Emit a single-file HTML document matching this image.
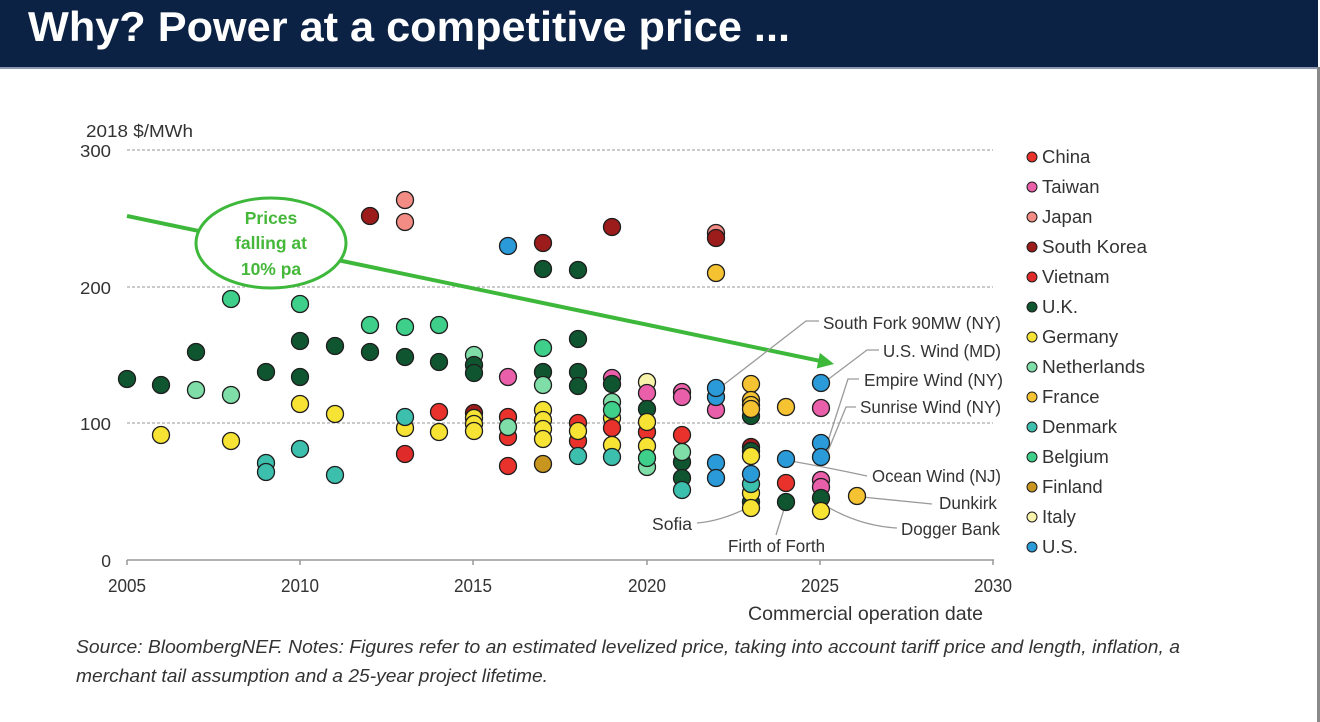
<!DOCTYPE html>
<html><head><meta charset="utf-8"><style>
html,body{margin:0;padding:0;background:#fff;}
svg{display:block;}
circle{stroke:#1e1e1e;stroke-width:1.3;}
.cn{fill:#e8322b}.tw{fill:#e95fa9}.jp{fill:#f28c84}.kr{fill:#9c1b1b}.vn{fill:#e02b2b}
.uk{fill:#0f5530}.de{fill:#f7e334}.nl{fill:#7fdea8}.fr{fill:#f5c232}.dk{fill:#3dbfae}
.be{fill:#3ecf8a}.fi{fill:#c8951f}.it{fill:#f7f3aa}.us{fill:#2b9ad8}
text{font-family:"Liberation Sans",Arial,sans-serif;fill:#333;}
.lg circle{stroke-width:1;}
</style></head><body>
<svg width="1320" height="722" viewBox="0 0 1320 722" xmlns="http://www.w3.org/2000/svg">
<rect x="0" y="0" width="1320" height="722" fill="#fff"/>
<!-- header -->
<rect x="0" y="0" width="1318" height="67" fill="#0c2245"/>
<rect x="0" y="67" width="1318" height="2" fill="#8b98b0"/>
<rect x="1317" y="67" width="3" height="655" fill="#8a8a8a"/>
<text x="28" y="41" font-size="42" font-weight="bold" style="fill:#fff" textLength="762" lengthAdjust="spacingAndGlyphs">Why? Power at a competitive price ...</text>

<!-- axes/grid -->
<g stroke="#aaa" stroke-width="1.2" stroke-dasharray="3,2">
<line x1="127" y1="150" x2="993" y2="150"/>
<line x1="127" y1="287" x2="993" y2="287"/>
<line x1="127" y1="423" x2="993" y2="423"/>
</g>
<g stroke="#999" stroke-width="1.5">
<line x1="127" y1="560" x2="994" y2="560"/>
<line x1="127" y1="560" x2="127" y2="565"/>
<line x1="300" y1="560" x2="300" y2="565"/>
<line x1="473" y1="560" x2="473" y2="565"/>
<line x1="647" y1="560" x2="647" y2="565"/>
<line x1="820" y1="560" x2="820" y2="565"/>
<line x1="993" y1="560" x2="993" y2="565"/>
</g>
<text x="86" y="137" font-size="17.5" textLength="107" lengthAdjust="spacingAndGlyphs">2018 $/MWh</text>
<g font-size="17.5" text-anchor="end">
<text x="111" y="157" textLength="31" lengthAdjust="spacingAndGlyphs">300</text>
<text x="111" y="294" textLength="31" lengthAdjust="spacingAndGlyphs">200</text>
<text x="111" y="430" textLength="31" lengthAdjust="spacingAndGlyphs">100</text>
<text x="111" y="567">0</text>
</g>
<g font-size="18" text-anchor="middle">
<text x="127" y="592" textLength="38" lengthAdjust="spacingAndGlyphs">2005</text>
<text x="300" y="592" textLength="38" lengthAdjust="spacingAndGlyphs">2010</text>
<text x="473" y="592" textLength="38" lengthAdjust="spacingAndGlyphs">2015</text>
<text x="647" y="592" textLength="38" lengthAdjust="spacingAndGlyphs">2020</text>
<text x="820" y="592" textLength="38" lengthAdjust="spacingAndGlyphs">2025</text>
<text x="993" y="592" textLength="38" lengthAdjust="spacingAndGlyphs">2030</text>
</g>
<text x="748" y="620" font-size="19.5" textLength="235" lengthAdjust="spacingAndGlyphs">Commercial operation date</text>

<!-- arrow -->
<line x1="127" y1="216" x2="819" y2="360.7" stroke="#3db83a" stroke-width="4"/>
<polygon points="834,364 816.7,368.5 819.9,352.9" fill="#3db83a"/>
<ellipse cx="271" cy="243" rx="75" ry="45" fill="#fff" stroke="#3db83a" stroke-width="3"/>
<g font-size="17.5" font-weight="bold" text-anchor="middle">
<text x="271" y="224" style="fill:#45b83a">Prices</text>
<text x="271" y="249" style="fill:#45b83a">falling at</text>
<text x="271" y="275" style="fill:#45b83a">10% pa</text>
</g>

<!-- leader lines -->
<g fill="none" stroke="#9a9a9a" stroke-width="1.3">
<polyline points="819,321 806,321 722,386"/>
<polyline points="879,350 867,350 826,381"/>
<polyline points="859,379 848,379 828,441"/>
<polyline points="856,407 846,407 826,456"/>
<path d="M791,461 Q830,468 867,476"/>
<path d="M862,497 L932,504"/>
<path d="M826,506 Q860,526 897,528"/>
<path d="M697,523 Q722,521 749,507"/>
<path d="M776,535 L785,506"/>
</g>

<!-- points -->
<g>
<circle class="uk" cx="127" cy="379" r="8.5"/>
<circle class="uk" cx="161" cy="385" r="8.5"/>
<circle class="de" cx="161" cy="435" r="8.5"/>
<circle class="uk" cx="196" cy="352" r="8.5"/>
<circle class="nl" cx="196" cy="390" r="8.5"/>
<circle class="be" cx="231" cy="299" r="8.5"/>
<circle class="nl" cx="231" cy="395" r="8.5"/>
<circle class="de" cx="231" cy="441" r="8.5"/>
<circle class="uk" cx="266" cy="372" r="8.5"/>
<circle class="dk" cx="266" cy="463" r="8.5"/>
<circle class="dk" cx="266" cy="472" r="8.5"/>
<circle class="be" cx="300" cy="304" r="8.5"/>
<circle class="uk" cx="300" cy="341" r="8.5"/>
<circle class="uk" cx="300" cy="377" r="8.5"/>
<circle class="de" cx="300" cy="404" r="8.5"/>
<circle class="dk" cx="300" cy="449" r="8.5"/>
<circle class="uk" cx="335" cy="346" r="8.5"/>
<circle class="de" cx="335" cy="414" r="8.5"/>
<circle class="dk" cx="335" cy="475" r="8.5"/>
<circle class="kr" cx="370" cy="216" r="8.5"/>
<circle class="be" cx="370" cy="325" r="8.5"/>
<circle class="uk" cx="370" cy="352" r="8.5"/>
<circle class="jp" cx="405" cy="200" r="8.5"/>
<circle class="jp" cx="405" cy="222" r="8.5"/>
<circle class="be" cx="405" cy="327" r="8.5"/>
<circle class="uk" cx="405" cy="357" r="8.5"/>
<circle class="de" cx="405" cy="428" r="8.5"/>
<circle class="dk" cx="405" cy="417" r="8.5"/>
<circle class="vn" cx="405" cy="454" r="8.5"/>
<circle class="be" cx="439" cy="325" r="8.5"/>
<circle class="uk" cx="439" cy="362" r="8.5"/>
<circle class="cn" cx="439" cy="412" r="8.5"/>
<circle class="de" cx="439" cy="432" r="8.5"/>
<circle class="nl" cx="474" cy="355" r="8.5"/>
<circle class="uk" cx="474" cy="365" r="8.5"/>
<circle class="uk" cx="474" cy="373" r="8.5"/>
<circle class="kr" cx="474" cy="413" r="8.5"/>
<circle class="de" cx="474" cy="418" r="8.5"/>
<circle class="de" cx="474" cy="424" r="8.5"/>
<circle class="de" cx="474" cy="431" r="8.5"/>
<circle class="us" cx="508" cy="246" r="8.5"/>
<circle class="tw" cx="508" cy="377" r="8.5"/>
<circle class="cn" cx="508" cy="417" r="8.5"/>
<circle class="cn" cx="508" cy="437" r="8.5"/>
<circle class="nl" cx="508" cy="427" r="8.5"/>
<circle class="cn" cx="508" cy="466" r="8.5"/>
<circle class="kr" cx="543" cy="243" r="8.5"/>
<circle class="uk" cx="543" cy="269" r="8.5"/>
<circle class="be" cx="543" cy="348" r="8.5"/>
<circle class="uk" cx="543" cy="372" r="8.5"/>
<circle class="nl" cx="543" cy="385" r="8.5"/>
<circle class="de" cx="543" cy="410" r="8.5"/>
<circle class="de" cx="543" cy="420" r="8.5"/>
<circle class="de" cx="543" cy="429" r="8.5"/>
<circle class="de" cx="543" cy="439" r="8.5"/>
<circle class="fi" cx="543" cy="464" r="8.5"/>
<circle class="uk" cx="578" cy="270" r="8.5"/>
<circle class="uk" cx="578" cy="339" r="8.5"/>
<circle class="uk" cx="578" cy="372" r="8.5"/>
<circle class="uk" cx="578" cy="386" r="8.5"/>
<circle class="cn" cx="578" cy="423" r="8.5"/>
<circle class="cn" cx="578" cy="441" r="8.5"/>
<circle class="de" cx="578" cy="431" r="8.5"/>
<circle class="dk" cx="578" cy="456" r="8.5"/>
<circle class="kr" cx="612" cy="227" r="8.5"/>
<circle class="tw" cx="612" cy="378" r="8.5"/>
<circle class="uk" cx="612" cy="384" r="8.5"/>
<circle class="nl" cx="612" cy="402" r="8.5"/>
<circle class="de" cx="612" cy="418" r="8.5"/>
<circle class="be" cx="612" cy="410" r="8.5"/>
<circle class="cn" cx="612" cy="428" r="8.5"/>
<circle class="de" cx="612" cy="445" r="8.5"/>
<circle class="dk" cx="612" cy="457" r="8.5"/>
<circle class="it" cx="647" cy="382" r="8.5"/>
<circle class="tw" cx="647" cy="393" r="8.5"/>
<circle class="uk" cx="647" cy="409" r="8.5"/>
<circle class="cn" cx="647" cy="432" r="8.5"/>
<circle class="de" cx="647" cy="422" r="8.5"/>
<circle class="de" cx="647" cy="446" r="8.5"/>
<circle class="nl" cx="647" cy="467" r="8.5"/>
<circle class="be" cx="647" cy="458" r="8.5"/>
<circle class="tw" cx="682" cy="392" r="8.5"/>
<circle class="tw" cx="682" cy="397" r="8.5"/>
<circle class="cn" cx="682" cy="435" r="8.5"/>
<circle class="uk" cx="682" cy="462" r="8.5"/>
<circle class="nl" cx="682" cy="452" r="8.5"/>
<circle class="uk" cx="682" cy="478" r="8.5"/>
<circle class="dk" cx="682" cy="490" r="8.5"/>
<circle class="jp" cx="716" cy="233" r="8.5"/>
<circle class="kr" cx="716" cy="238" r="8.5"/>
<circle class="fr" cx="716" cy="273" r="8.5"/>
<circle class="tw" cx="716" cy="410" r="8.5"/>
<circle class="us" cx="716" cy="397" r="8.5"/>
<circle class="us" cx="716" cy="388" r="8.5"/>
<circle class="us" cx="716" cy="463" r="8.5"/>
<circle class="us" cx="716" cy="478" r="8.5"/>
<circle class="fr" cx="751" cy="384" r="8.5"/>
<circle class="uk" cx="751" cy="416" r="8.5"/>
<circle class="fr" cx="751" cy="400" r="8.5"/>
<circle class="fr" cx="751" cy="405" r="8.5"/>
<circle class="fr" cx="751" cy="409" r="8.5"/>
<circle class="kr" cx="751" cy="447" r="8.5"/>
<circle class="uk" cx="751" cy="451" r="8.5"/>
<circle class="de" cx="751" cy="456" r="8.5"/>
<circle class="uk" cx="751" cy="502" r="8.5"/>
<circle class="de" cx="751" cy="493" r="8.5"/>
<circle class="dk" cx="751" cy="484" r="8.5"/>
<circle class="us" cx="751" cy="474" r="8.5"/>
<circle class="de" cx="751" cy="508" r="8.5"/>
<circle class="fr" cx="786" cy="407" r="8.5"/>
<circle class="us" cx="786" cy="459" r="8.5"/>
<circle class="cn" cx="786" cy="483" r="8.5"/>
<circle class="uk" cx="786" cy="502" r="8.5"/>
<circle class="us" cx="821" cy="383" r="8.5"/>
<circle class="tw" cx="821" cy="408" r="8.5"/>
<circle class="us" cx="821" cy="443" r="8.5"/>
<circle class="us" cx="821" cy="457" r="8.5"/>
<circle class="tw" cx="821" cy="480" r="8.5"/>
<circle class="tw" cx="821" cy="487" r="8.5"/>
<circle class="uk" cx="821" cy="498" r="8.5"/>
<circle class="de" cx="821" cy="511" r="8.5"/>
<circle class="fr" cx="857" cy="496" r="8.5"/>
</g>

<!-- annotation labels -->
<g font-size="17.5">
<text x="823" y="329" textLength="178" lengthAdjust="spacingAndGlyphs">South Fork 90MW (NY)</text>
<text x="883" y="357" textLength="118" lengthAdjust="spacingAndGlyphs">U.S. Wind (MD)</text>
<text x="864" y="386" textLength="139" lengthAdjust="spacingAndGlyphs">Empire Wind (NY)</text>
<text x="860" y="413" textLength="141" lengthAdjust="spacingAndGlyphs">Sunrise Wind (NY)</text>
<text x="872" y="482" textLength="129" lengthAdjust="spacingAndGlyphs">Ocean Wind (NJ)</text>
<text x="939" y="509" textLength="58" lengthAdjust="spacingAndGlyphs">Dunkirk</text>
<text x="901" y="535" textLength="99" lengthAdjust="spacingAndGlyphs">Dogger Bank</text>
<text x="652" y="530" textLength="40" lengthAdjust="spacingAndGlyphs">Sofia</text>
<text x="728" y="552" textLength="97" lengthAdjust="spacingAndGlyphs">Firth of Forth</text>
</g>

<!-- legend -->
<g class="lg" font-size="18.5">
<circle class="cn" cx="1032" cy="157" r="5"/><text x="1042" y="163">China</text>
<circle class="tw" cx="1032" cy="187" r="5"/><text x="1042" y="193">Taiwan</text>
<circle class="jp" cx="1032" cy="217" r="5"/><text x="1042" y="223">Japan</text>
<circle class="kr" cx="1032" cy="247" r="5"/><text x="1042" y="253" textLength="105" lengthAdjust="spacingAndGlyphs">South Korea</text>
<circle class="vn" cx="1032" cy="277" r="5"/><text x="1042" y="283">Vietnam</text>
<circle class="uk" cx="1032" cy="307" r="5"/><text x="1042" y="313">U.K.</text>
<circle class="de" cx="1032" cy="337" r="5"/><text x="1042" y="343">Germany</text>
<circle class="nl" cx="1032" cy="367" r="5"/><text x="1042" y="373" textLength="103" lengthAdjust="spacingAndGlyphs">Netherlands</text>
<circle class="fr" cx="1032" cy="397" r="5"/><text x="1042" y="403">France</text>
<circle class="dk" cx="1032" cy="427" r="5"/><text x="1042" y="433">Denmark</text>
<circle class="be" cx="1032" cy="457" r="5"/><text x="1042" y="463">Belgium</text>
<circle class="fi" cx="1032" cy="487" r="5"/><text x="1042" y="493">Finland</text>
<circle class="it" cx="1032" cy="517" r="5"/><text x="1042" y="523">Italy</text>
<circle class="us" cx="1032" cy="547" r="5"/><text x="1042" y="553">U.S.</text>
</g>

<!-- footer -->
<g font-size="18.5" font-style="italic">
<text x="76" y="653" textLength="1104" lengthAdjust="spacingAndGlyphs">Source: BloombergNEF. Notes: Figures refer to an estimated levelized price, taking into account tariff price and length, inflation, a</text>
<text x="76" y="682" textLength="472" lengthAdjust="spacingAndGlyphs">merchant tail assumption and a 25-year project lifetime.</text>
</g>
</svg>
</body></html>
